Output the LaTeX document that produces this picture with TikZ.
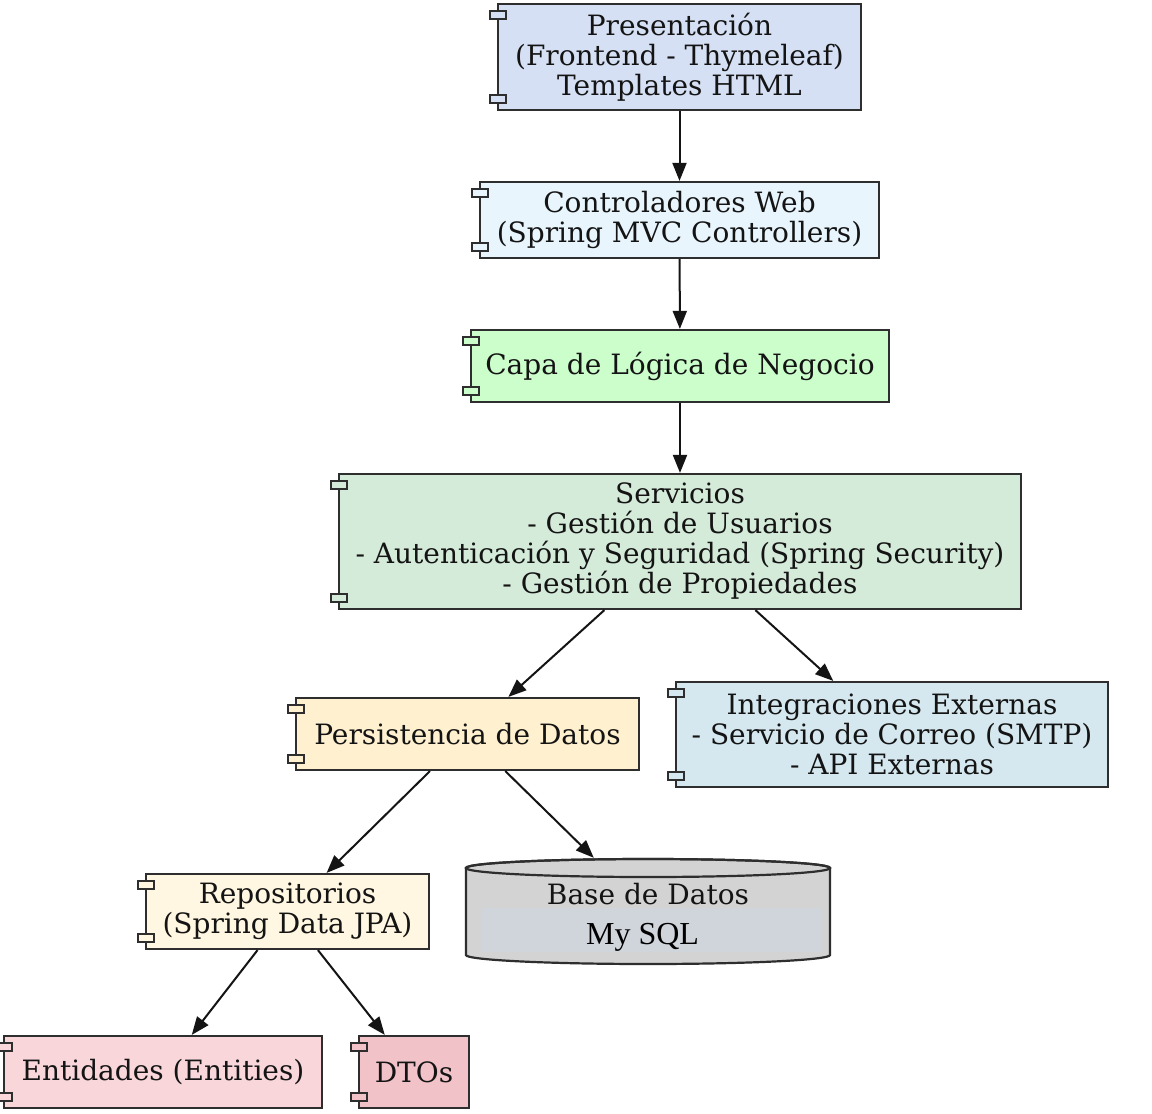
\documentclass[tikz,border=0pt]{standalone}
\usepackage{fontspec}
\setmainfont{DejaVu Serif}
\newfontfamily\mysqlfont{Liberation Serif}
\usetikzlibrary{arrows.meta,calc}
\definecolor{bordc}{HTML}{2E2E2E}
\definecolor{cPres}{HTML}{D6E0F4}
\definecolor{cCtrl}{HTML}{E8F5FD}
\definecolor{cCapa}{HTML}{CCFECC}
\definecolor{cServ}{HTML}{D5EBDA}
\definecolor{cPers}{HTML}{FFF1CF}
\definecolor{cInte}{HTML}{D6E8EF}
\definecolor{cRepo}{HTML}{FFF7E1}
\definecolor{cEnti}{HTML}{F8D6DA}
\definecolor{cDTO}{HTML}{F1C2C7}
\definecolor{cBD}{HTML}{D3D3D3}
\definecolor{cBDin}{HTML}{D0D4DB}
\newcommand\compdeco[2]{%
  \draw[bordc, line width=1.8pt, fill=#2] ($(#1.north west)+(-7,8)$) rectangle ++(16,8);
  \draw[bordc, line width=1.8pt, fill=#2] ($(#1.south west)+(-7,-16)$) rectangle ++(16,8);
}
\begin{document}
\begin{tikzpicture}[x=1pt,y=-1pt,
  box/.style={draw=bordc, line width=2.2pt, align=center, inner sep=0pt,
    font=\fontsize{28}{30}\selectfont, text=black!92},
  arr/.style={draw=black!92, line width=2pt, -{Triangle[length=18pt,width=14pt]}}]
\useasboundingbox (0,0) rectangle (1152,1114);
\fill[white] (0,0) rectangle (1152,1114);

\node[box, fill=cPres, minimum width=363pt, minimum height=106pt] (pres) at (679.5,57)
  {Presentación\\(Frontend - Thymeleaf)\\Templates HTML};
\node[box, fill=cCtrl, minimum width=399pt, minimum height=76pt] (ctrl) at (679.5,220)
  {Controladores Web\\(Spring MVC Controllers)};
\node[box, fill=cCapa, minimum width=418pt, minimum height=72pt] (capa) at (680,366)
  {Capa de Lógica de Negocio};
\node[box, fill=cServ, minimum width=682pt, minimum height=135pt] (serv) at (680,541.5)
  {Servicios\\- Gestión de Usuarios\\- Autenticación y Seguridad (Spring Security)\\- Gestión de Propiedades};
\node[box, fill=cPers, minimum width=343pt, minimum height=72pt] (pers) at (467.5,734)
  {Persistencia de Datos};
\node[box, fill=cInte, minimum width=432pt, minimum height=105pt] (inte) at (892,734.5)
  {Integraciones Externas\\- Servicio de Correo (SMTP)\\- API Externas};
\node[box, fill=cRepo, minimum width=283pt, minimum height=75pt] (repo) at (287.5,911.5)
  {Repositorios\\(Spring Data JPA)};
\node[box, fill=cEnti, minimum width=318pt, minimum height=72pt] (enti) at (163,1072)
  {Entidades (Entities)};
\node[box, fill=cDTO, minimum width=110pt, minimum height=72pt] (dto) at (414,1072)
  {DTOs};

\compdeco{pres}{cPres}
\compdeco{ctrl}{cCtrl}
\compdeco{capa}{cCapa}
\compdeco{serv}{cServ}
\compdeco{pers}{cPers}
\compdeco{inte}{cInte}
\compdeco{repo}{cRepo}
\compdeco{enti}{cEnti}
\compdeco{dto}{cDTO}

% database cylinder
\node[minimum width=364pt, minimum height=106pt, inner sep=0pt] (bd) at (648,911) {};
\draw[bordc, line width=2.2pt, fill=cBD] (466,868) -- (466,955)
  arc[start angle=180, end angle=360, x radius=182pt, y radius=9pt] -- (830,868)
  arc[start angle=0, end angle=180, x radius=182pt, y radius=9pt] -- cycle;
\draw[bordc, line width=2.2pt] (648,868) ellipse [x radius=182pt, y radius=9pt];
\fill[cBDin] (482,908) rectangle (822,952);
\node[font=\fontsize{28}{30}\selectfont, text=black!92] (bdt) at (648,894) {Base de Datos};
\node[font=\mysqlfont\fontsize{32}{36}\selectfont, text=black] (bdsql) at (642.5,937) {My SQL};

\draw[arr] (pres) -- (ctrl);
\draw[arr] (ctrl) -- (capa);
\draw[arr] (capa) -- (serv);
\draw[arr] (serv) -- (pers);
\draw[arr] (serv) -- (inte);
\draw[arr] (pers) -- (repo);
\draw[arr] (pers) -- (bd);
\draw[arr] (repo) -- (enti);
\draw[arr] (repo) -- (dto);
\end{tikzpicture}
\end{document}
